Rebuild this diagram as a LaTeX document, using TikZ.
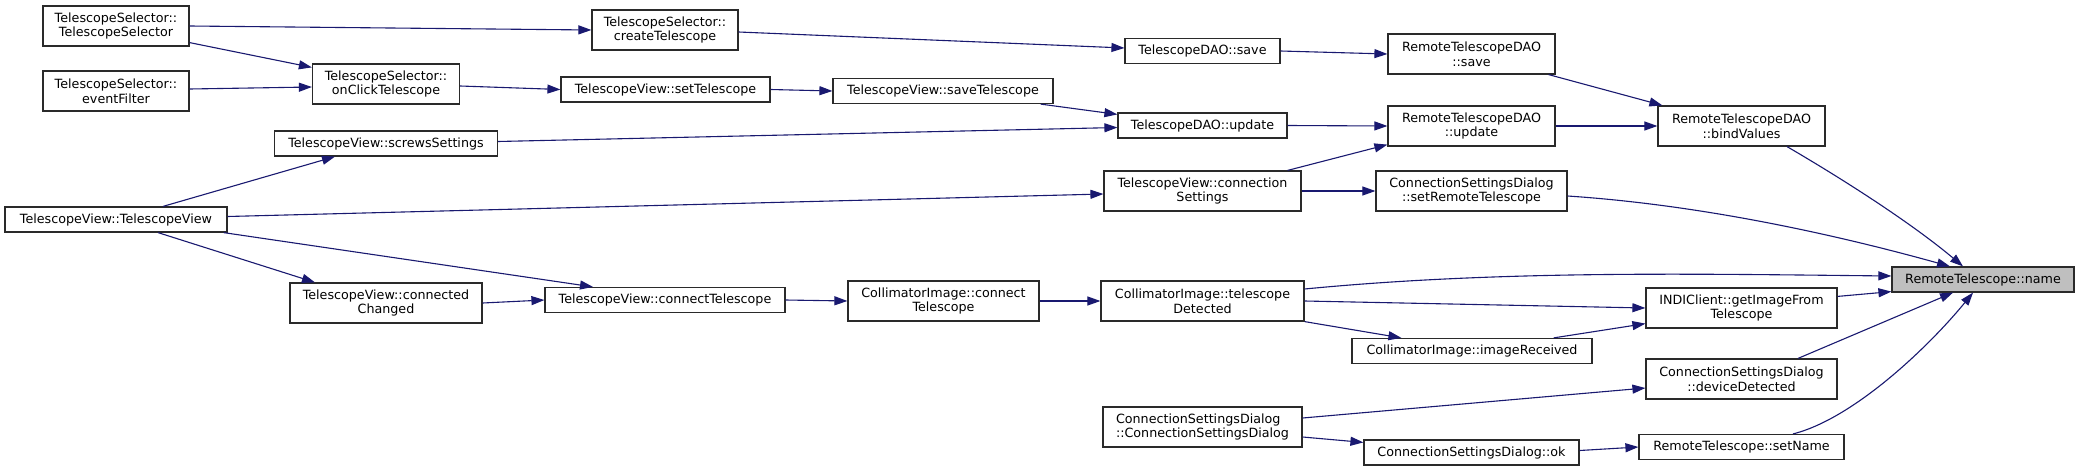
\documentclass[tikz,border=0pt]{standalone}
\usepackage{fontspec}
\setmainfont{DejaVu Sans}
\usetikzlibrary{arrows.meta}
\definecolor{edgeblue}{HTML}{191970}
\definecolor{boxgray}{HTML}{2A2A2A}
\definecolor{rootfill}{HTML}{BFBFBF}
\begin{document}
\begin{tikzpicture}[x=0.5pt,y=-0.5pt,
  nd/.style={draw=boxgray, line width=0.6pt, fill=white, inner sep=0pt, align=center,
    font=\fontsize{6.35pt}{7.35pt}\selectfont, minimum height=20pt},
  one/.style={minimum height=12.5pt},
  root/.style={fill=rootfill},
  call/.style={draw=edgeblue, line width=0.55pt, -{Triangle[length=6.5pt,width=4.5pt]}}]
\fill[white] (0,0) rectangle (2080,471);
\useasboundingbox (0,0) rectangle (2080,471);
% column 1
\node[nd, minimum width=73pt] (tsTS) at (116,26) {TelescopeSelector::\\TelescopeSelector};
\node[nd, minimum width=73pt] (tsEF) at (116,91) {TelescopeSelector::\\eventFilter};
\node[nd, one, minimum width=111pt] (tvTV) at (116,219.5) {TelescopeView::TelescopeView};
% column 2
\node[nd, minimum width=73.5pt] (tsOn) at (386,84) {TelescopeSelector::\\onClickTelescope};
\node[nd, one, minimum width=111.5pt] (tvScrews) at (386,143.5) {TelescopeView::screwsSettings};
\node[nd, minimum width=96pt] (tvCC) at (386,303) {TelescopeView::connected\\Changed};
% column 3
\node[nd, minimum width=73pt] (tsCreate) at (665,30) {TelescopeSelector::\\createTelescope};
\node[nd, one, minimum width=104.5pt] (tvSet) at (665.5,89.5) {TelescopeView::setTelescope};
\node[nd, one, minimum width=120pt] (tvConnTel) at (665,300) {TelescopeView::connectTelescope};
% column 4
\node[nd, one, minimum width=110pt] (tvSave) at (943,91) {TelescopeView::saveTelescope};
\node[nd, minimum width=95.5pt] (ciConn) at (943.5,301) {CollimatorImage::connect\\Telescope};
% column 5
\node[nd, one, minimum width=77.5pt] (daoSave) at (1202.5,51) {TelescopeDAO::save};
\node[nd, one, minimum width=84.5pt] (daoUpd) at (1202.5,125.5) {TelescopeDAO::update};
\node[nd, minimum width=98.5pt] (tvCS) at (1202.5,191) {TelescopeView::connection\\Settings};
\node[nd, minimum width=101.5pt] (ciTD) at (1202.5,301) {CollimatorImage::telescope\\Detected};
\node[nd, minimum width=99.5pt, align=left] (csdCSD) at (1202.5,427) {ConnectionSettingsDialog\\::ConnectionSettingsDialog};
% column 6
\node[nd, minimum width=83.5pt] (rdSave) at (1471.5,54) {RemoteTelescopeDAO\\::save};
\node[nd, minimum width=83.5pt] (rdUpd) at (1471.5,126) {RemoteTelescopeDAO\\::update};
\node[nd, minimum width=95.5pt] (csdSR) at (1471.5,191) {ConnectionSettingsDialog\\::setRemoteTelescope};
\node[nd, one, minimum width=120pt] (ciIR) at (1472,351) {CollimatorImage::imageReceived};
\node[nd, one, minimum width=107.5pt] (csdOK) at (1471.5,452.5) {ConnectionSettingsDialog::ok};
% column 7
\node[nd, minimum width=83.5pt] (rdBind) at (1741.5,126) {RemoteTelescopeDAO\\::bindValues};
\node[nd, minimum width=95.5pt] (indi) at (1741.5,308) {INDIClient::getImageFrom\\Telescope};
\node[nd, minimum width=95.5pt] (csdDD) at (1741.5,379) {ConnectionSettingsDialog\\::deviceDetected};
\node[nd, one, minimum width=102.5pt] (rtSet) at (1741.5,447) {RemoteTelescope::setName};
% root
\node[nd, root, one, minimum width=91pt] (rtName) at (1983,279.5) {RemoteTelescope::name};
% edges
\draw[call] (tsTS.east) -- (tsCreate.west);
\draw[call] ([yshift=2pt]tsTS.south east) -- ([yshift=-2pt]tsOn.north west);
\draw[call] ([yshift=1pt]tsEF.east) -- ([yshift=-1.5pt]tsOn.west);
\draw[call] ([yshift=-1pt]tsOn.east) -- (tvSet.west);
\draw[call] ([yshift=-1pt]tsCreate.east) -- ([yshift=1.5pt]daoSave.west);
\draw[call] (tvSet.east) -- (tvSave.west);
\draw[call] ([xshift=-6.5pt]tvSave.south east) -- ([yshift=-1pt]daoUpd.north west);
\draw[call] ([yshift=1pt]tvScrews.east) -- ([yshift=-1pt]daoUpd.west);
\draw[call] (daoSave.east) -- (rdSave.west);
\draw[call] (daoUpd.east) -- (rdUpd.west);
\draw[call] ([xshift=-7pt]tvCS.north east) -- ([yshift=1pt]rdUpd.south west);
\draw[call] (tvCS.east) -- (csdSR.west);
\draw[call] ([xshift=-3.5pt]rdSave.south east) -- ([xshift=2.5pt]rdBind.north west);
\draw[call] (rdUpd.east) -- (rdBind.west);
\draw[call] ([xshift=22.75pt]rdBind.south) .. controls +(60,35) and +(-50,-42) .. ([xshift=-10pt]rtName.north);
\draw[call] ([yshift=-2.5pt]csdSR.east) .. controls +(150,10) and +(-90,-25) .. ([xshift=-16.5pt]rtName.north);
\draw[call] ([xshift=23.5pt]tvTV.north) -- ([xshift=-25.5pt]tvScrews.south);
\draw[call] ([yshift=1.5pt]tvTV.east) -- ([yshift=-1.5pt]tvCS.west);
\draw[call] ([xshift=21pt]tvTV.south) -- ([xshift=-35.5pt]tvCC.north);
\draw[call] ([xshift=-2pt]tvTV.south east) -- ([xshift=-36pt]tvConnTel.north);
\draw[call] (tvCC.east) -- (tvConnTel.west);
\draw[call] (tvConnTel.east) -- (ciConn.west);
\draw[call] (ciConn.east) -- (ciTD.west);
\draw[call] ([yshift=6pt]ciTD.east) .. controls +(196,-19) and +(-192,-2) .. ([yshift=1.75pt]rtName.west);
\draw[call] (ciTD.east) -- (indi.west);
\draw[call] (ciTD.south east) -- ([xshift=25pt]ciIR.north west);
\draw[call] ([xshift=-19.5pt]ciIR.north east) -- ([yshift=2.5pt]indi.south west);
\draw[call] ([yshift=-4.5pt]indi.north east) -- ([yshift=0.5pt]rtName.south west);
\draw[call] ([xshift=28.25pt]csdDD.north) -- ([xshift=-15pt]rtName.south);
\draw[call] ([yshift=4.5pt]csdCSD.east) -- ([yshift=-4.5pt]csdDD.west);
\draw[call] ([yshift=-5pt]csdCSD.east) -- ([yshift=-1.5pt]csdOK.north west);
\draw[call] ([yshift=1pt]csdOK.east) -- (rtSet.west);
\draw[call] ([xshift=25.75pt]rtSet.north) .. controls +(60,-15) and +(-45,55) .. ([xshift=-5pt]rtName.south);
\end{tikzpicture}
\end{document}
